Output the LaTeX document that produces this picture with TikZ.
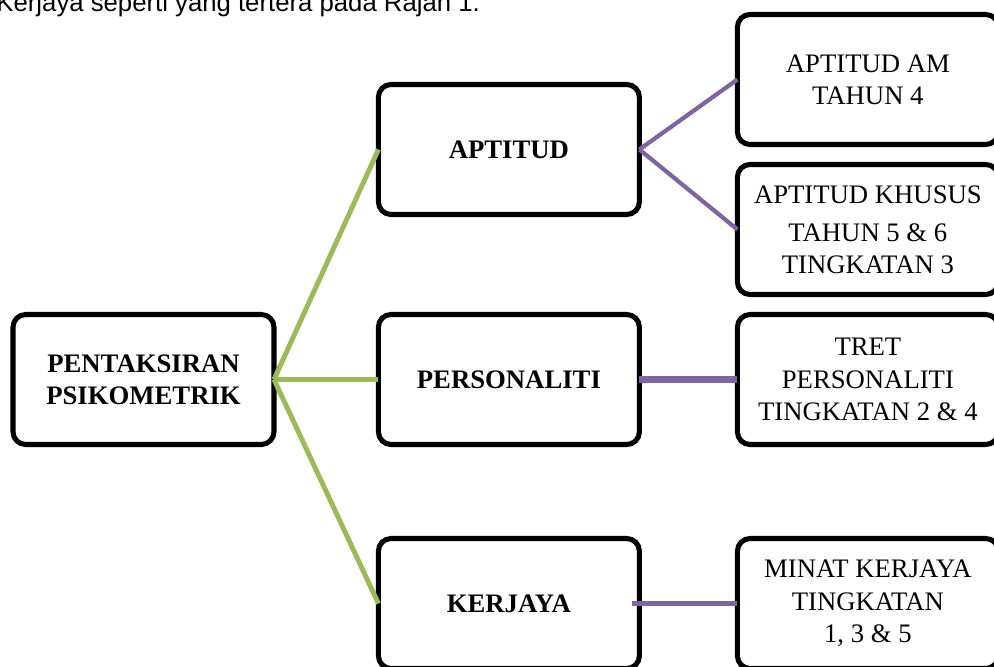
\documentclass[tikz,border=0pt]{standalone}
\usepackage{fontspec}
\setmainfont{Liberation Serif}
\newfontfamily\topfont{Liberation Sans}
\definecolor{branchGreen}{RGB}{155,187,89}
\definecolor{leafPurple}{RGB}{128,100,162}
\usetikzlibrary{calc,shapes,positioning}

\begin{document}
\begin{tikzpicture}[thick,node distance=2.5cm and 2.45cm,every node/.style=rectangle,
    mainBox/.style={draw, line width=3.6pt, rounded corners=9pt, outer sep=0pt, align=center, minimum height=3.25cm, minimum width=6.525cm, font=\fontsize{19}{23}\selectfont\bfseries},
    leafBox/.style={draw, line width=3.6pt, rounded corners=9pt, outer sep=0pt, align=center, minimum height=3.25cm, minimum width=6.525cm, font=\fontsize{19}{23}\selectfont},
    greenLink/.style={draw=branchGreen, line width=3.5pt},
    purpleLink/.style={draw=leafPurple, line width=3pt},
    ]
    \useasboundingbox (-3.5875,-7.1625) rectangle (21.2625,9.4875);

    \node[anchor=base west, inner sep=0pt, font=\topfont\fontsize{18.3}{22}\selectfont] (caption) at (-3.69,9.1875) {Kerjaya seperti yang tertera pada Rajah 1.};

    \node[mainBox] (root) at (0,0) {PENTAKSIRAN\\PSIKOMETRIK};
    \node[mainBox, right=2.61cm of root] (personaliti) {PERSONALITI};
    \node[mainBox, above=of personaliti] (aptitud) {APTITUD};
    \node[mainBox, below=2.35cm of personaliti] (kerjaya) {KERJAYA};

    \node[leafBox, right=of personaliti] (tret) {TRET\\PERSONALITI\\TINGKATAN 2 \& 4};
    \node[leafBox, above=0.5cm of tret] (aptitudKhusus) {APTITUD KHUSUS\\[4pt]TAHUN 5 \& 6\\TINGKATAN 3};
    \node[leafBox, above=0.5cm of aptitudKhusus] (aptitudAm) {APTITUD AM\\TAHUN 4};
    \node[leafBox, right=of kerjaya] (minat) {MINAT KERJAYA\\TINGKATAN\\1, 3 \& 5};

    \draw[greenLink] (root.east) -- (aptitud.west);
    \draw[greenLink] (root.east) -- (personaliti.west);
    \draw[greenLink] (root.east) -- (kerjaya.west);

    \draw[purpleLink] (aptitud.east) -- (aptitudAm.west);
    \draw[purpleLink] (aptitud.east) -- (aptitudKhusus.west);
    \draw[purpleLink, line width=5pt] (personaliti.east) -- (tret.west);
    \draw[purpleLink, line width=3.6pt] ([xshift=-0.18cm]kerjaya.east) -- (minat.west);
  \end{tikzpicture}
\end{document}
